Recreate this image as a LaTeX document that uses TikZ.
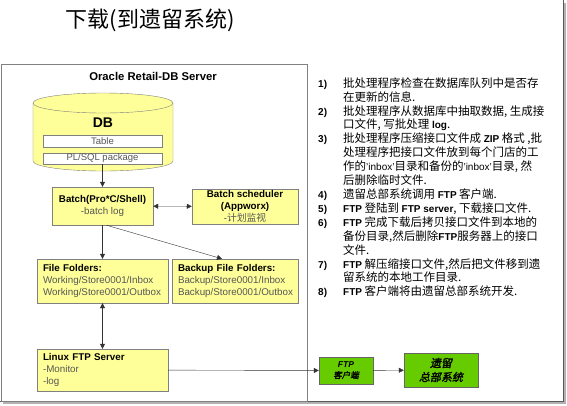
\documentclass[tikz,border=0pt]{standalone}
\usepackage{fontspec}
\setmainfont{Liberation Sans}
\newfontfamily\cjk{Noto Sans CJK SC}
\newfontfamily\cjkit[FakeSlant=0.2,FakeBold=2]{Noto Sans CJK SC}
\usetikzlibrary{positioning,arrows.meta}
\definecolor{boxyellow}{RGB}{255,255,153}
\definecolor{ftpgreen}{RGB}{102,204,0}
\definecolor{edgegray}{RGB}{128,128,128}
\definecolor{notegray}{RGB}{85,85,85}
\newcommand\lat[1]{{\rmfamily\bfseries\fontsize{10}{13.87}\selectfont #1}}
\newcommand\latn[1]{{\rmfamily\fontsize{10}{13.87}\selectfont #1}}
\tikzset{
  box/.style={draw=edgegray, fill=boxyellow, inner sep=0pt, align=center,
    font=\fontsize{9.8}{11.8}\selectfont},
  folder/.style={box, align=left, inner xsep=6pt, text width=#1},
  layer/.style={draw=edgegray, fill=white, inner sep=0pt, text=notegray,
    minimum width=119, minimum height=11.5, font=\fontsize{9.5}{10}\selectfont},
  legacy/.style={draw=black!60, fill=ftpgreen, inner sep=0pt, align=center},
}
\begin{document}
\begin{tikzpicture}[x=1pt, y=-1pt, >={Triangle[length=5pt,width=5pt]}]
    \useasboundingbox (0,0) rectangle (567,405);
    %frame
    \draw[black!30, line width=2pt] (565,3) -- (565,403) -- (3,403);
    \draw[black!65] (563,0) -- (563,401) -- (0,401);
    \draw[edgegray] (1,64) rectangle (307,401);
    %title
    \node[font=\cjk\fontsize{22}{26}\selectfont] (title) at (150,20) {下载(到遗留系统)};
    \node[font=\bfseries\fontsize{11.3}{13}\selectfont] (server) at (153,76) {Oracle Retail-DB Server};
    %database
    \filldraw[draw=edgegray, fill=boxyellow] (33,103) -- (33,161) arc (180:0:70 and 10)
      -- (173,103) arc (360:180:70 and 10) -- cycle;
    \draw[edgegray] (33,103) arc (180:0:70 and 10);
    \node[font=\bfseries\fontsize{14}{16}\selectfont] (db) at (103,123) {DB};
    \node[layer] (table) at (102.5,141) {Table};
    \node[layer] (plsql) at (102.5,158.5) {PL/SQL package};
    %boxes
    \node[box, minimum width=101, minimum height=38] (batch) at (102.5,206)
      {\textbf{Batch(Pro*C/Shell)}\\\textcolor{notegray}{-batch log}};
    \node[box, minimum width=106, minimum height=35] (sched) at (245,206.5)
      {\textbf{Batch scheduler}\\\textbf{(Appworx)}\\\textcolor{notegray}{-{\cjk 计划监视}}};
    \node[folder=119, minimum height=44] (files) at (102.5,281)
      {\textbf{File Folders:}\\\textcolor{notegray}{Working/Store0001/Inbox}\\\textcolor{notegray}{Working/Store0001/Outbox}};
    \node[folder=114, minimum height=44] (backup) at (235,281)
      {\textbf{Backup File Folders:}\\\textcolor{notegray}{Backup/Store0001/Inbox}\\\textcolor{notegray}{Backup/Store0001/Outbox}};
    \node[folder=119, minimum height=42] (linux) at (102.5,370)
      {\textbf{Linux FTP Server}\\\textcolor{notegray}{-Monitor}\\\textcolor{notegray}{-log}};
    \node[legacy, minimum width=54, minimum height=27, font=\fontsize{8.5}{10.5}\selectfont] (client) at (346,370.5)
      {\textbf{\textit{FTP}}\\{\cjkit 客户端}};
    \node[legacy, minimum width=74, minimum height=34, font=\fontsize{11}{14}\selectfont] (hq) at (441,370)
      {{\cjkit 遗留}\\{\cjkit 总部系统}};
    %edges
    \draw[->, black!80] (plsql) -- (batch);
    \draw[<->, black!80] (batch) -- (sched);
    \draw[->, black!80] (batch) -- (files);
    \draw[->, black!80] ([xshift=4pt]batch.south) -- ([xshift=-13pt]backup.north);
    \draw[<->, black!80] (files) -- (linux);
    \draw[->, black!80] (linux) -- (client);
    \draw[->, black!80] (client) -- (hq);
    %steps
    \node[anchor=north west, inner sep=0pt, font=\cjk\fontsize{11.5}{13.87}\selectfont] (steps) at (318,77.3) {%
      \begin{tabular}{@{}p{25pt}@{}l@{}}
        \lat{1)} & 批处理程序检查在数据库队列中是否存\\
                 & 在更新的信息.\\
        \lat{2)} & 批处理程序从数据库中抽取数据, 生成接\\
                 & 口文件, 写批处理 \lat{log}.\\
        \lat{3)} & 批处理程序压缩接口文件成 \lat{ZIP} 格式 ,批\\
                 & 处理程序把接口文件放到每个门店的工\\
                 & 作的\latn{'inbox'}目录和备份的\latn{'inbox'}目录, 然\\
                 & 后删除临时文件.\\
        \lat{4)} & 遗留总部系统调用 \lat{FTP} 客户端.\\
        \lat{5)} & \lat{FTP} 登陆到 \lat{FTP server}, 下载接口文件.\\
        \lat{6)} & \lat{FTP} 完成下载后拷贝接口文件到本地的\\
                 & 备份目录,然后删除\lat{FTP}服务器上的接口\\
                 & 文件.\\
        \lat{7)} & \lat{FTP} 解压缩接口文件,然后把文件移到遗\\
                 & 留系统的本地工作目录.\\
        \lat{8)} & \lat{FTP} 客户端将由遗留总部系统开发.\\
      \end{tabular}};
\end{tikzpicture}
\end{document}
